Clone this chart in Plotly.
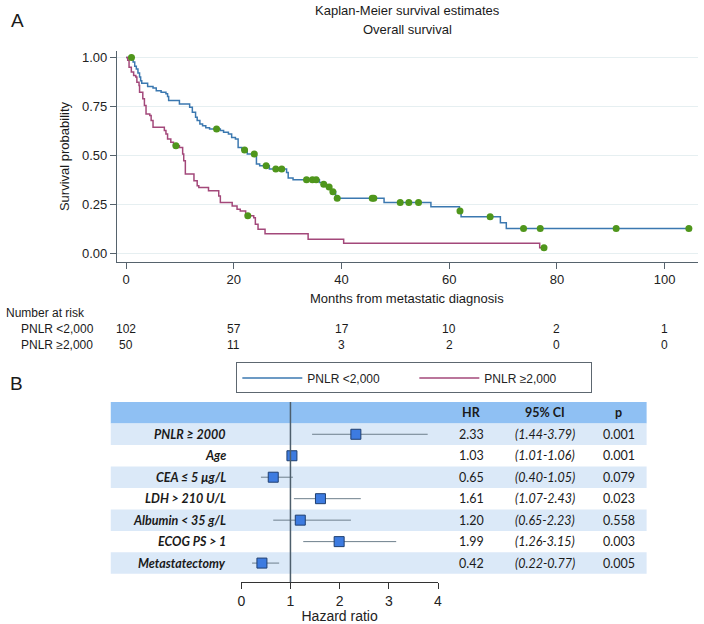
import plotly.graph_objects as go

W, H = 704, 624

def px(p):
    return p / W

def py(p):
    return 1 - p / H

# ---------------- Kaplan-Meier data ----------------
low_label = "PNLR <2,000"
high_label = "PNLR ≥2,000"

blue_t = [0, 1.3, 1.6, 1.9, 2.2, 2.5, 2.7, 2.9, 4.0, 5.0, 5.6, 6.5, 7.4, 7.7, 7.9, 9.9,
          11.8, 12.3, 12.9, 13.2, 13.7, 14.2, 14.8, 15.5, 17.5, 18.1, 19.0, 19.6, 20.3,
          20.8, 21.5, 22.5, 24.2, 24.8, 26.6, 29.8, 30.1, 31.0, 35.9, 36.5, 37.2, 38.1,
          38.9, 47.9, 56.6, 61.9, 62.2, 69.5, 70.6, 104.5]
blue_s = [1.0, 0.976, 0.955, 0.94, 0.92, 0.90, 0.88, 0.868, 0.851, 0.843, 0.83, 0.822,
          0.814, 0.80, 0.78, 0.762, 0.745, 0.72, 0.694, 0.677, 0.66, 0.651, 0.64, 0.634,
          0.626, 0.617, 0.608, 0.591, 0.583, 0.54, 0.527, 0.506, 0.455, 0.446, 0.429,
          0.412, 0.383, 0.374, 0.36, 0.352, 0.338, 0.313, 0.28, 0.258, 0.236, 0.215,
          0.185, 0.155, 0.125, 0.125]
blue_cens = [1.0, 16.8, 22.0, 23.8, 26.0, 27.8, 28.9, 33.5, 34.6, 35.3, 36.7, 37.7, 38.4,
             39.2, 45.7, 46.0, 50.9, 52.5, 54.3, 62.0, 67.6, 73.8, 76.9, 91.0, 104.5]

pink_t = [0, 0.3, 0.55, 0.97, 1.4, 1.8, 2.0, 2.4, 2.5, 3.1, 3.4, 3.7, 4.4, 4.65, 5.0, 7.1,
          7.4, 7.7, 8.3, 8.8, 9.9, 10.5, 10.7, 11.0, 12.6, 13.2, 13.5, 15.3, 17.2, 17.5,
          19.7, 20.6, 21.2, 22.2, 23.7, 24.0, 24.5, 25.8, 33.8, 40.4, 76.8, 77.6]
pink_s = [1.0, 0.985, 0.95, 0.925, 0.908, 0.90, 0.873, 0.856, 0.822, 0.788, 0.754, 0.711,
          0.703, 0.677, 0.643, 0.626, 0.609, 0.583, 0.566, 0.549, 0.54, 0.506, 0.472,
          0.404, 0.369, 0.344, 0.335, 0.318, 0.292, 0.258, 0.241, 0.224, 0.215, 0.19,
          0.181, 0.147, 0.121, 0.099, 0.07, 0.05, 0.027, 0.027]
pink_cens = [9.25, 22.6, 77.6]

risk_times = [0, 20, 40, 60, 80, 100]
risk_low = [102, 57, 17, 10, 2, 1]
risk_high = [50, 11, 3, 2, 0, 0]

# ---------------- Forest plot data ----------------
fp_labels = ["PNLR ≥ 2000", "Age", "CEA ≤ 5 µg/L", "LDH > 210 U/L",
             "Albumin < 35 g/L", "ECOG PS > 1", "Metastatectomy"]
fp_hr = [2.33, 1.03, 0.65, 1.61, 1.20, 1.99, 0.42]
fp_lo = [1.44, 1.01, 0.40, 1.07, 0.65, 1.26, 0.22]
fp_hi = [3.79, 1.06, 1.05, 2.43, 2.23, 3.15, 0.77]
fp_p = ["0.001", "0.001", "0.079", "0.023", "0.558", "0.003", "0.005"]


def surv_at(ts, ss, t):
    val = ss[0]
    for ti, si in zip(ts, ss):
        if ti <= t:
            val = si
    return val


BLUE = "#3b78b0"
PINK = "#a3487a"
GREEN = "#4f961c"
AXC = "#56636d"
FONT = "Liberation Sans, Arial, sans-serif"
TFONT = "Lato, Open Sans, sans-serif"

fig = go.Figure()

fig.add_trace(go.Scatter(x=blue_t, y=blue_s, mode="lines", line=dict(color=BLUE, width=1.5, shape="hv"),
                         name=low_label, xaxis="x", yaxis="y"))
fig.add_trace(go.Scatter(x=pink_t, y=pink_s, mode="lines", line=dict(color=PINK, width=1.5, shape="hv"),
                         name=high_label, xaxis="x", yaxis="y"))
fig.add_trace(go.Scatter(x=blue_cens, y=[surv_at(blue_t, blue_s, t) for t in blue_cens], mode="markers",
                         marker=dict(color=GREEN, size=7), showlegend=False, xaxis="x", yaxis="y"))
fig.add_trace(go.Scatter(x=pink_cens, y=[surv_at(pink_t, pink_s, t) for t in pink_cens], mode="markers",
                         marker=dict(color=GREEN, size=7), showlegend=False, xaxis="x", yaxis="y"))

# forest plot
n = len(fp_labels)
fp_pos = [n - i for i in range(n)]
fig.add_trace(go.Scatter(
    x=fp_hr, y=fp_pos, mode="markers",
    marker=dict(symbol="square", size=10, color="#3d7be0", line=dict(color="#1f3f70", width=1)),
    error_x=dict(type="data", symmetric=False,
                 array=[h - m for h, m in zip(fp_hi, fp_hr)],
                 arrayminus=[m - l for m, l in zip(fp_hr, fp_lo)],
                 color="#6d7f8c", thickness=1, width=0),
    showlegend=False, xaxis="x2", yaxis="y2", cliponaxis=False))

shapes = []
# table bands
shapes.append(dict(type="rect", xref="paper", yref="y2", x0=px(108), x1=px(650),
                   y0=n + 0.5, y1=n + 1.5, fillcolor="#8fc0f3", line=dict(width=0), layer="below"))
for i, pos in enumerate(fp_pos):
    if i % 2 == 0:
        shapes.append(dict(type="rect", xref="paper", yref="y2", x0=px(108), x1=px(650),
                           y0=pos - 0.5, y1=pos + 0.5, fillcolor="#dbe9f8", line=dict(width=0), layer="below"))
# reference line at HR = 1
shapes.append(dict(type="line", xref="x2", yref="y2", x0=1, x1=1, y0=0.116, y1=n + 1.5,
                   line=dict(color="#4d5e6c", width=1.5)))


def note(text, x, y, size=13, xanchor="center", xref="paper", yref="paper", family=FONT, **kw):
    return dict(text=text, x=x, y=y, xref=xref, yref=yref, xanchor=xanchor, yanchor="middle",
                showarrow=False, font=dict(family=family, size=size, color="#1a1a1a"), **kw)


ann = []
ann.append(note("A", px(5), py(20), size=19, xanchor="left"))
ann.append(note("B", px(4), py(383), size=19, xanchor="left"))
ann.append(note("Kaplan-Meier survival estimates", px(408), py(10)))
ann.append(note("Overall survival", px(408), py(29)))
ann.append(note("Survival probability", px(61), py(155), textangle=-90))
ann.append(note("Months from metastatic diagnosis", px(408), py(298)))
ann.append(note("Number at risk", 0, py(313), size=12, xanchor="left"))
for lab, vals, yy in [(low_label, risk_low, 329), (high_label, risk_high, 345)]:
    ann.append(note(lab, px(15), py(yy), size=12, xanchor="left"))
    for t, v in zip(risk_times, vals):
        ann.append(note(str(v), t, py(yy), size=12, xref="x"))

TS = 12.5
# table header
for txt, cx in [("HR", 473), ("95% CI", 547), ("p", 622)]:
    ann.append(note("<b>" + txt + "</b>", px(cx), n + 1, size=TS, yref="y2", family=TFONT))
for i, pos in enumerate(fp_pos):
    ann.append(note("<b><i>" + fp_labels[i] + "</i></b>", px(227), pos, size=TS, xanchor="right",
                    yref="y2", family=TFONT))
    ann.append(note(f"{fp_hr[i]:.2f}", px(473), pos, size=TS, yref="y2", family=TFONT))
    ann.append(note(f"<i>({fp_lo[i]:.2f}-{fp_hi[i]:.2f})</i>", px(547), pos, size=TS, yref="y2", family=TFONT))
    ann.append(note(fp_p[i], px(622), pos, size=TS, yref="y2", family=TFONT))

fig.update_layout(
    width=W, height=H,
    margin=dict(l=0, r=0, t=0, b=0),
    paper_bgcolor="white", plot_bgcolor="white",
    font=dict(family=FONT, size=13, color="#222"),
    xaxis=dict(domain=[px(114.3), px(702)], range=[-1.69, 106.2], anchor="y",
               tickvals=risk_times, ticks="outside", ticklen=6, tickcolor=AXC,
               showline=True, linecolor=AXC, linewidth=1.2, showgrid=False, zeroline=False,
               tickfont=dict(size=13)),
    yaxis=dict(domain=[py(261), py(50)], range=[-0.0436, 1.033], anchor="x",
               tickvals=[0, 0.25, 0.5, 0.75, 1.0], ticktext=["0.00", "0.25", "0.50", "0.75", "1.00"],
               ticks="outside", ticklen=6, tickcolor=AXC,
               showline=True, linecolor=AXC, linewidth=1.2, showgrid=True, gridcolor="#e6eff1",
               zeroline=False, tickfont=dict(size=13)),
    xaxis2=dict(domain=[px(240), px(439)], range=[0, 4], anchor="y2",
                tickvals=[0, 1, 2, 3, 4], ticks="outside", ticklen=6, tickcolor="#333",
                showline=True, linecolor="#333", linewidth=1.2, showgrid=False, zeroline=False,
                tickfont=dict(size=14),
                title=dict(text="Hazard ratio", font=dict(size=14), standoff=4)),
    yaxis2=dict(domain=[py(582), py(401.5)], range=[0.116, n + 1.51], anchor="x2",
                visible=False, fixedrange=True),
    legend=dict(orientation="h", x=px(235), y=py(362), xanchor="left", yanchor="top",
                bordercolor="#5d6770", borderwidth=1, font=dict(size=12, family=FONT),
                entrywidth=102, entrywidthmode="pixels", itemwidth=60, bgcolor="white"),
    shapes=shapes,
    annotations=ann,
)

fig.write_html("out.html", config={"displayModeBar": False},
               post_script="document.body.style.margin='0';document.body.style.padding='0';")
